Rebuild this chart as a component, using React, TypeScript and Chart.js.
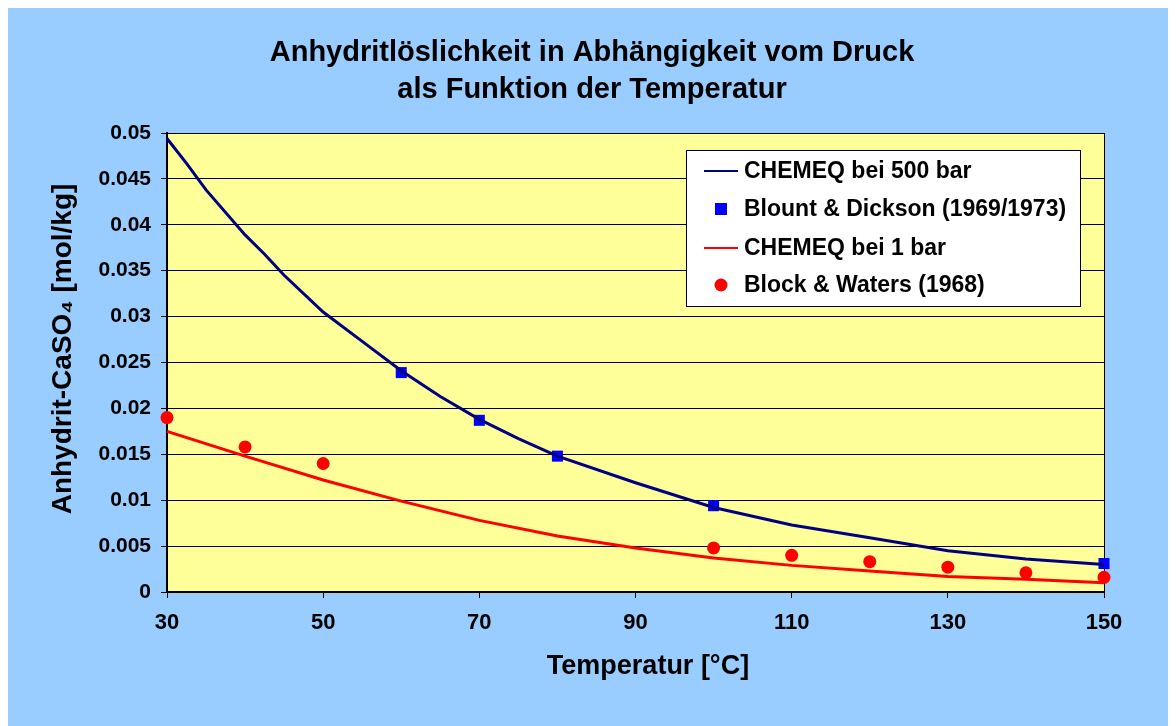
import React, { useEffect, useRef } from "react";
import { Chart, registerables } from "chart.js";

Chart.register(...registerables);

// ---------- data ----------
const titleLines = ["Anhydritlöslichkeit in Abhängigkeit vom Druck", "als Funktion der Temperatur"];
const xAxisTitle = "Temperatur [°C]";
const yAxisTitle = "Anhydrit-CaSO₄ [mol/kg]";

const chemeq500Temps = [30, 32.5, 35, 40, 42.5, 45, 50, 55, 60, 65, 70, 75, 80, 90, 100, 110, 120, 130, 140, 150];
const chemeq500Values = [0.0494, 0.0467, 0.0438, 0.0389, 0.0368, 0.0345, 0.0305, 0.0273, 0.0241, 0.0213, 0.0188, 0.0167, 0.0148, 0.0119, 0.0092, 0.0073, 0.0059, 0.0045, 0.0036, 0.003];

const blountTemps = [60, 70, 80, 100, 150];
const blountValues = [0.0239, 0.0187, 0.0148, 0.0094, 0.0031];

const chemeq1Temps = [30, 40, 50, 60, 70, 80, 90, 100, 110, 120, 130, 140, 150];
const chemeq1Values = [0.0175, 0.0148, 0.0122, 0.0099, 0.0078, 0.0061, 0.0048, 0.0037, 0.0029, 0.0023, 0.0017, 0.0014, 0.001];

const blockTemps = [30, 40, 50, 100, 110, 120, 130, 140, 150];
const blockValues = [0.019, 0.0158, 0.014, 0.0048, 0.004, 0.0033, 0.0027, 0.0021, 0.0016];

const seriesLabels = ["CHEMEQ bei 500 bar", "Blount & Dickson (1969/1973)", "CHEMEQ bei 1 bar", "Block & Waters (1968)"];

const xMin = 30, xMax = 150, xStep = 20;
const yMin = 0, yMax = 0.05, yStep = 0.005;

const toPoints = (xs: number[], ys: number[]) => xs.map((x, i) => ({ x, y: ys[i] }));

const FONT = "'Liberation Sans', Arial, sans-serif";

const decorPlugin = {
  id: "decor",
  beforeDraw(chart: any) {
    const { ctx, chartArea: a, width, height } = chart;
    ctx.save();
    ctx.fillStyle = "#99CCFF";
    ctx.fillRect(0, 0, width, height);
    ctx.fillStyle = "#FFFF99";
    ctx.fillRect(a.left, a.top, a.right - a.left, a.bottom - a.top);
    ctx.restore();
  },
  beforeDatasetsDraw(chart: any) {
    const { ctx, chartArea: a } = chart;
    ctx.save();
    ctx.strokeStyle = "#000";
    ctx.lineWidth = 1;
    ctx.beginPath();
    ctx.moveTo(a.right + 0.5, a.top);
    ctx.lineTo(a.right + 0.5, a.bottom);
    ctx.stroke();
    ctx.restore();
  },
  afterDraw(chart: any) {
    const { ctx } = chart;
    ctx.save();
    ctx.fillStyle = "#000";
    ctx.textAlign = "center";
    ctx.textBaseline = "alphabetic";
    ctx.font = `bold 29px ${FONT}`;
    ctx.fillText(titleLines[0], 584, 53);
    ctx.fillText(titleLines[1], 584, 90);

    ctx.font = `bold 27px ${FONT}`;
    ctx.textBaseline = "middle";
    ctx.fillText(xAxisTitle, 640, 659);

    ctx.save();
    ctx.font = `bold 28px ${FONT}`;
    ctx.translate(55, 341);
    ctx.rotate(-Math.PI / 2);
    ctx.fillText(yAxisTitle, 0, 0);
    ctx.restore();

    // legend
    const bx = 678, by = 142, bw = 394, bh = 156;
    ctx.fillStyle = "#FFFFFF";
    ctx.fillRect(bx, by, bw, bh);
    ctx.strokeStyle = "#000";
    ctx.lineWidth = 1;
    ctx.strokeRect(bx + 0.5, by + 0.5, bw, bh);
    const rows = [163, 201, 240, 277];
    chart.data.datasets.forEach((ds: any, i: number) => {
      const y = rows[i];
      if (ds.showLine) {
        ctx.strokeStyle = ds.borderColor;
        ctx.lineWidth = 2;
        ctx.beginPath();
        ctx.moveTo(696, y);
        ctx.lineTo(730, y);
        ctx.stroke();
      } else {
        ctx.fillStyle = ds.backgroundColor;
        if (ds.pointStyle === "rect") {
          ctx.fillRect(713 - 6, y - 6, 12, 12);
        } else {
          ctx.beginPath();
          ctx.arc(713, y, 6.5, 0, Math.PI * 2);
          ctx.fill();
        }
      }
      ctx.fillStyle = "#000";
      ctx.textAlign = "left";
      ctx.textBaseline = "middle";
      ctx.font = `bold 23px ${FONT}`;
      ctx.fillText(ds.label, 736, y + 1);
    });
    ctx.restore();
  },
};

export default function App() {
  const ref = useRef<HTMLCanvasElement | null>(null);
  useEffect(() => {
    document.body.style.overflow = "hidden";
    if (!ref.current) return;
    const chart = new Chart(ref.current, {
      type: "scatter",
      data: {
        datasets: [
          {
            label: seriesLabels[0],
            data: toPoints(chemeq500Temps, chemeq500Values),
            showLine: true,
            borderColor: "#000080",
            backgroundColor: "#000080",
            borderWidth: 3,
            pointRadius: 0,
            tension: 0,
          },
          {
            label: seriesLabels[1],
            data: toPoints(blountTemps, blountValues),
            showLine: false,
            pointStyle: "rect",
            pointRadius: 7.8,
            backgroundColor: "#0000FF",
            borderColor: "#0000FF",
            borderWidth: 0,
          },
          {
            label: seriesLabels[2],
            data: toPoints(chemeq1Temps, chemeq1Values),
            showLine: true,
            borderColor: "#FF0000",
            backgroundColor: "#FF0000",
            borderWidth: 3,
            pointRadius: 0,
            tension: 0,
          },
          {
            label: seriesLabels[3],
            data: toPoints(blockTemps, blockValues),
            showLine: false,
            pointStyle: "circle",
            pointRadius: 6.5,
            backgroundColor: "#FF0000",
            borderColor: "#FF0000",
            borderWidth: 0,
          },
        ] as any,
      },
      options: {
        animation: false,
        responsive: false,
        clip: false as any,
        layout: { padding: { top: 125, right: 72, left: 0, bottom: 0 } },
        plugins: { legend: { display: false }, tooltip: { enabled: false }, title: { display: false } },
        scales: {
          x: {
            type: "linear",
            min: xMin,
            max: xMax,
            afterFit: (s: any) => { s.height = 134; },
            ticks: { stepSize: xStep, color: "#000", font: { family: FONT, size: 22, weight: "bold" }, padding: 12 },
            grid: { drawOnChartArea: false, drawTicks: true, tickLength: 6, color: "#000" },
            border: { display: true, color: "#000", width: 2 },
          },
          y: {
            type: "linear",
            min: yMin,
            max: yMax,
            afterFit: (s: any) => { s.width = 159; },
            ticks: {
              stepSize: yStep,
              color: "#000",
              font: { family: FONT, size: 21, weight: "bold" },
              padding: 10,
              callback: (v: any) => String(+Number(v).toFixed(3)),
            },
            grid: { color: "#000", lineWidth: 1, tickLength: 6 },
            border: { display: true, color: "#000", width: 2 },
          },
        },
      } as any,
      plugins: [decorPlugin],
    });
    return () => chart.destroy();
  }, []);
  return <canvas ref={ref} width={1168} height={718} style={{ display: "block" }} />;
}
